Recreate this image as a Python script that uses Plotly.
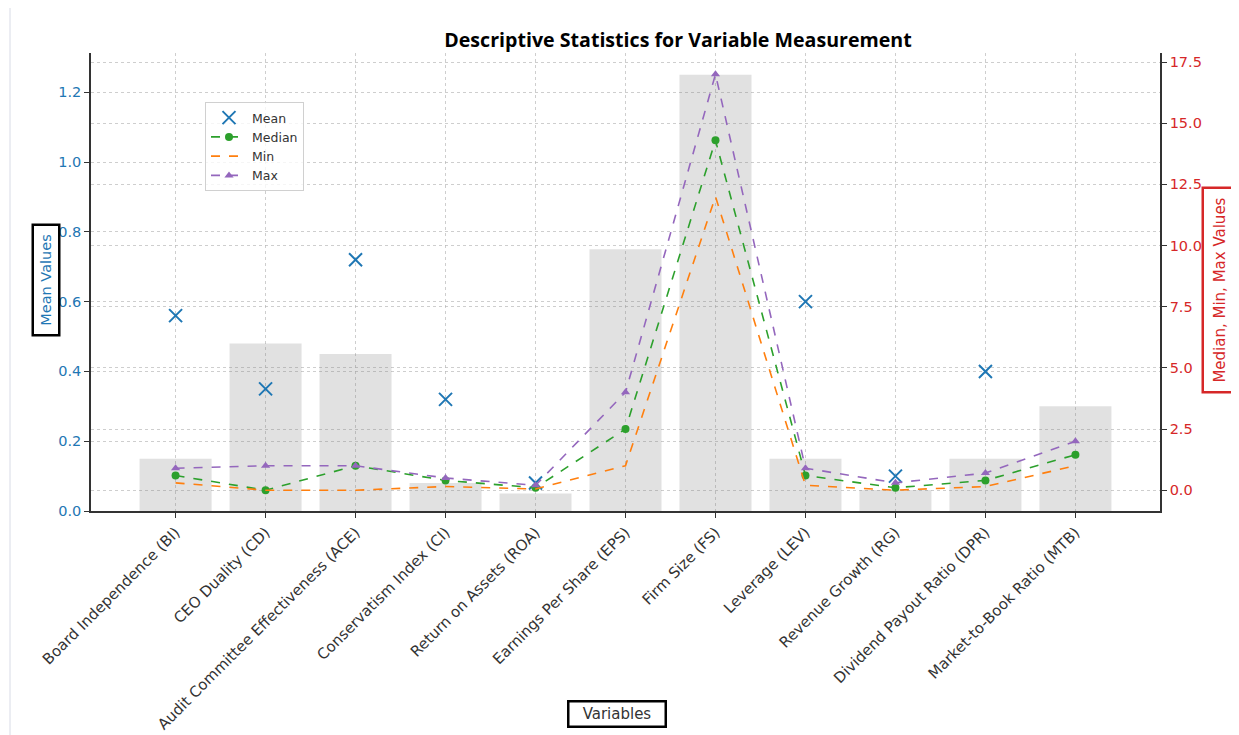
import plotly.graph_objects as go

categories = ["Board Independence (BI)", "CEO Duality (CD)", "Audit Committee Effectiveness (ACE)",
              "Conservatism Index (CI)", "Return on Assets (ROA)", "Earnings Per Share (EPS)",
              "Firm Size (FS)", "Leverage (LEV)", "Revenue Growth (RG)",
              "Dividend Payout Ratio (DPR)", "Market-to-Book Ratio (MTB)"]
bar_values = [0.15, 0.48, 0.45, 0.08, 0.05, 0.75, 1.25, 0.15, 0.06, 0.15, 0.30]
mean_values = [0.56, 0.35, 0.72, 0.32, 0.08, None, None, 0.60, 0.10, 0.40, None]
median_values = [0.6, 0.0, 1.0, 0.4, 0.1, 2.5, 14.3, 0.6, 0.1, 0.4, 1.45]
min_values = [0.3, 0.0, 0.0, 0.15, 0.05, 1.0, 12.0, 0.2, 0.0, 0.15, 1.0]
max_values = [0.9, 1.0, 1.0, 0.5, 0.2, 4.0, 17.0, 0.9, 0.3, 0.7, 2.0]
left_ticks = [0.0, 0.2, 0.4, 0.6, 0.8, 1.0, 1.2]
right_ticks = [0.0, 2.5, 5.0, 7.5, 10.0, 12.5, 15.0, 17.5]

BLUE = "#1f77b4"; RED = "#d62728"; GREEN = "#2ca02c"; ORANGE = "#ff7f0e"; PURPLE = "#9467bd"
FONT = "DejaVu Sans"
x = list(range(len(categories)))

# page body has an 8px margin; figure sized/margined so the plot area lands at x 91-1160, y 53-511
W, H = 1231, 727
L, R, T, B = 83, 79, 45, 224
PW, PH = W - L - R, H - T - B


def px(xpix):
    return (xpix - 8 - L) / PW


def py(ypix):
    return (H - B + 8 - ypix) / PH


fig = go.Figure()
fig.add_trace(go.Bar(x=x, y=bar_values, width=0.8, marker=dict(color="rgba(128,128,128,0.24)", line=dict(width=0)),
                     showlegend=False, yaxis="y"))
fig.add_trace(go.Scatter(x=x, y=mean_values, mode="markers", name="Mean", yaxis="y",
                         marker=dict(symbol="x-thin", size=13, line=dict(width=2, color=BLUE), color=BLUE)))
fig.add_trace(go.Scatter(x=x, y=median_values, mode="lines+markers", name="Median", yaxis="y2",
                         line=dict(color=GREEN, dash="dash", width=1.6),
                         marker=dict(symbol="circle", size=8, color=GREEN)))
fig.add_trace(go.Scatter(x=x, y=min_values, mode="lines", name="Min", yaxis="y2",
                         line=dict(color=ORANGE, dash="dash", width=1.6)))
fig.add_trace(go.Scatter(x=x, y=max_values, mode="lines+markers", name="Max", yaxis="y2",
                         line=dict(color=PURPLE, dash="dash", width=1.6),
                         marker=dict(symbol="triangle-up", size=8, color=PURPLE)))

grid = "rgba(185,185,185,0.7)"
fig.update_layout(
    width=W, height=H,
    margin=dict(l=L, r=R, t=T, b=B, autoexpand=False),
    paper_bgcolor="white", plot_bgcolor="white",
    font=dict(family=FONT, size=15, color="#333"),
    title=dict(text="<b>Descriptive Statistics for Variable Measurement</b>",
               font=dict(family="Open Sans", size=19.6, color="black"),
               x=px(678), xref="paper", xanchor="center", y=1 - (40 - 8) / H, yref="container", yanchor="middle"),
    xaxis=dict(tickmode="array", tickvals=x, ticktext=categories, tickangle=-45, range=[-0.94, 10.94],
               showgrid=True, gridcolor=grid, griddash="dot", gridwidth=1, automargin=False,
               showline=True, linecolor="#333", linewidth=1.5, ticks="outside", ticklen=5, tickcolor="#333",
               tickfont=dict(family=FONT, size=15, color="#333"), zeroline=False),
    yaxis=dict(range=[0, 1.3125], tickvals=left_ticks, tickformat=".1f", automargin=False,
               tickfont=dict(family=FONT, size=14.5, color=BLUE),
               showgrid=True, gridcolor=grid, griddash="dot", gridwidth=1,
               showline=True, linecolor="#333", linewidth=1.5, ticks="outside", ticklen=5, tickcolor="#333",
               zeroline=False),
    yaxis2=dict(range=[-0.85, 17.87], tickvals=right_ticks, tickformat=".1f", overlaying="y", side="right",
                tickfont=dict(family=FONT, size=14.5, color=RED), automargin=False,
                showgrid=True, gridcolor=grid, griddash="dot", gridwidth=1,
                showline=True, linecolor="#333", linewidth=1.5, ticks="outside", ticklen=5, tickcolor="#333",
                zeroline=False),
    legend=dict(x=px(205), y=py(102), xanchor="left", yanchor="top", bgcolor="rgba(255,255,255,0.8)",
                bordercolor="#d0d0d0", borderwidth=1, font=dict(family=FONT, size=12.5, color="#333"),
                tracegroupgap=0, itemwidth=36),
    annotations=[
        dict(text="Mean Values", x=px(45.5), y=py(280), xref="paper", yref="paper", textangle=-90, showarrow=False,
             xanchor="center", yanchor="middle",
             font=dict(family=FONT, size=14.5, color=BLUE), bordercolor="black", borderwidth=2.5, borderpad=0,
             width=108, height=24, bgcolor="white"),
        dict(text="Median, Min, Max Values", x=px(1219.5), y=py(290), xref="paper", yref="paper", textangle=-90,
             xanchor="center", yanchor="middle",
             showarrow=False, font=dict(family=FONT, size=15, color=RED), bordercolor=RED, borderwidth=2.5,
             borderpad=0, width=202, height=32, bgcolor="white"),
        dict(text="Variables", x=px(616.5), y=py(713.5), xref="paper", yref="paper", showarrow=False,
             xanchor="center", yanchor="middle",
             font=dict(family=FONT, size=15, color="#333"), bordercolor="black", borderwidth=2.5, borderpad=0,
             width=95, height=23, bgcolor="white"),
    ],
    shapes=[dict(type="line", xref="paper", yref="paper", x0=px(10), x1=px(10), y0=py(735), y1=py(0),
                 line=dict(color="#d8dbe6", width=1))],
)
fig.write_html("out.html")
